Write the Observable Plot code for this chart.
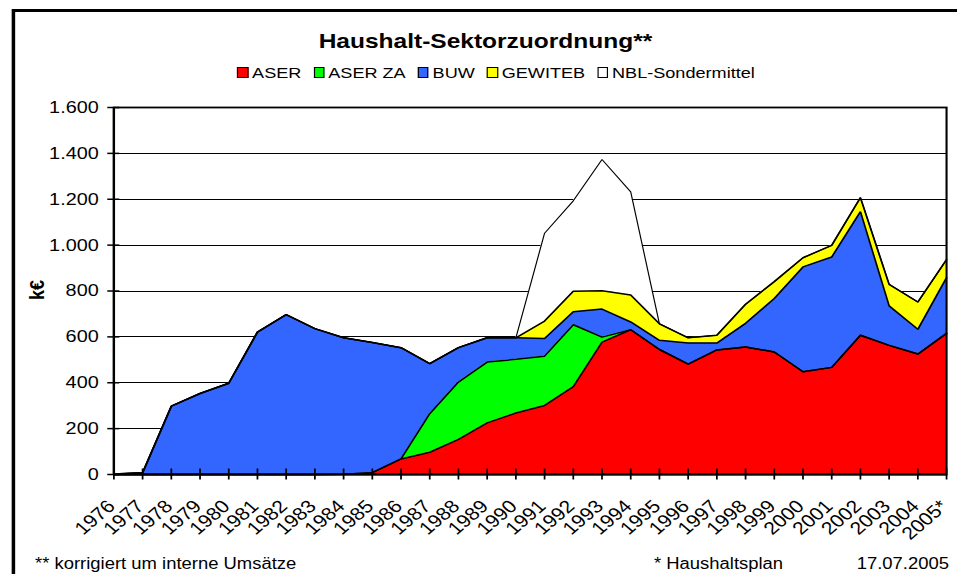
<!DOCTYPE html>
<html>
<head>
<meta charset="utf-8">
<script src="https://cdn.jsdelivr.net/npm/d3@7"></script>
<script src="https://cdn.jsdelivr.net/npm/@observablehq/plot@0.6"></script>
<style>
html, body { margin: 0; padding: 0; overflow: hidden; background: #fff; width: 957px; height: 574px; }
#stage { position: absolute; left: 0; top: 0; width: 820px; height: 574px; transform: scaleX(1.167); transform-origin: 0 0;
  font-family: 'Liberation Sans', Arial, sans-serif; color: #000; }
#frame { position: absolute; left: 10.3px; top: 9px; width: 900px; height: 700px; border: 3px solid #000; box-sizing: border-box; }
#chart { position: absolute; left: 0; top: 0; }
#title { position: absolute; left: 12px; width: 808px; top: 30.2px; text-align: center; font-weight: bold; font-size: 21px; line-height: 21px; white-space: nowrap; }
#legend { position: absolute; left: 30px; width: 790px; top: 64.9px; display: flex; justify-content: center; font-size: 15.5px; line-height: 15.5px; white-space: nowrap; }
#legend .item { margin: 0 5.15px; }
#legend .sw { display: inline-block; width: 9.4px; height: 11px; box-sizing: border-box; border: 1px solid #000; margin-right: 3.4px; vertical-align: baseline; }
#ylabel { position: absolute; left: 31.7px; top: 290px; transform: translate(-50%, -50%) rotate(-90deg); font-weight: bold; font-size: 18px; line-height: 18px; white-space: nowrap; }
.foot { position: absolute; top: 555.6px; font-size: 15.8px; line-height: 15.8px; white-space: nowrap; }
</style>
</head>
<body>
<div id="stage">
  <div id="frame"></div>
  <div id="chart"></div>
  <div id="title">Haushalt-Sektorzuordnung**</div>
  <div id="legend"></div>
  <div id="ylabel">k€</div>
  <div class="foot" style="left:30px">** korrigiert um interne Umsätze</div>
  <div class="foot" style="left:560.4px">* Haushaltsplan</div>
  <div class="foot" style="right:6.8px">17.07.2005</div>
</div>
<script>
// ---- data ----
const years = [1976,1977,1978,1979,1980,1981,1982,1983,1984,1985,1986,1987,1988,1989,1990,
               1991,1992,1993,1994,1995,1996,1997,1998,1999,2000,2001,2002,2003,2004,2005];
const xLabels = ["1976","1977","1978","1979","1980","1981","1982","1983","1984","1985","1986","1987","1988","1989","1990",
                 "1991","1992","1993","1994","1995","1996","1997","1998","1999","2000","2001","2002","2003","2004","2005*"];
const seriesNames = ["ASER", "ASER ZA", "BUW", "GEWITEB", "NBL-Sondermittel"];
const seriesColors = ["#FF0000", "#00FF00", "#3366FF", "#FFFF00", "#FFFFFF"];
const aser     = [0,0,0,0,0,0,0,0,1,8,68,97,153,225,268,301,383,577,631,545,481,543,556,534,448,467,607,563,525,615];
const aserZA   = [0,0,0,0,0,0,0,0,0,0,0,168,250,265,234,215,270,22,0,0,0,0,0,0,0,0,0,0,0,0];
const buw      = [2,8,298,353,398,621,697,636,595,567,485,218,150,106,94,77,57,122,34,40,92,30,103,233,457,481,539,172,108,243];
const gewiteb  = [0,0,0,0,0,0,0,0,0,0,0,0,0,0,0,76,89,80,118,72,23,34,83,74,40,51,61,94,119,79];
const nbl      = [0,0,0,0,0,0,0,0,0,0,0,0,0,0,0,383,394,572,449,0,0,0,0,0,0,0,0,0,0,0];
const yTicks = [0,200,400,600,800,1000,1200,1400,1600];

// ---- build long table ----
const seriesValues = [aser, aserZA, buw, gewiteb, nbl];
const long = [];
seriesNames.forEach((name, s) => {
  years.forEach((yr, i) => long.push({year: yr, value: seriesValues[s][i], series: name}));
});

const fmt = d => d >= 1000 ? `${Math.floor(d / 1000)}.${String(d % 1000).padStart(3, "0")}` : String(d);

const tickHalfY = 24;     // data units (~5.5px)
const tickHalfX = 0.21;   // years (~5px)

const chart = Plot.plot({
  width: 820,
  height: 574,
  marginLeft: 97.1,
  marginRight: 9.4,
  marginTop: 107,
  marginBottom: 100,
  x: {domain: [1976, 2005], label: null, axis: null},
  y: {domain: [0, 1600], label: null},
  color: {domain: seriesNames, range: seriesColors},
  style: {fontFamily: "'Liberation Sans', Arial, sans-serif", fontSize: "17px", background: "transparent", overflow: "visible", color: "#000"},
  marks: [
    Plot.ruleY(yTicks.filter(d => d > 0 && d < 1600), {stroke: "#000", strokeWidth: 1, shapeRendering: "crispEdges"}),
    Plot.areaY(long, {x: "year", y: "value", z: "series", fill: "series", order: seriesNames}),
    Plot.lineY(long, Plot.stackY2({x: "year", y: "value", z: "series", order: seriesNames, stroke: "#000",
      strokeWidth: d => d.series === "NBL-Sondermittel" ? 1 : 1.5, strokeLinejoin: "miter"})),
    Plot.frame({stroke: "#000", strokeWidth: 1.8}),
    Plot.ruleY([0], {stroke: "#000", strokeWidth: 2}),
    Plot.ruleX([1976], {stroke: "#000", strokeWidth: 2}),
    Plot.ruleX(years, {x: d => d, y1: -tickHalfY, y2: tickHalfY, stroke: "#000", strokeWidth: 1.5}),
    Plot.ruleY(yTicks, {y: d => d, x1: 1976 - tickHalfX, x2: 1976 + tickHalfX, stroke: "#000", strokeWidth: 1.5}),
    Plot.axisY({ticks: yTicks, tickSize: 0, tickPadding: 13, tickFormat: fmt, label: null}),
    Plot.text(years, {x: d => d, y: 0, text: (d, i) => xLabels[i], rotate: -45, textAnchor: "end", lineAnchor: "top",
      dx: -7, dy: 24, fontSize: 18, fill: "#000"})
  ]
});
document.getElementById("chart").appendChild(chart);

// ---- legend ----
const legend = document.getElementById("legend");
seriesNames.forEach((name, i) => {
  const item = document.createElement("span");
  item.className = "item";
  const sw = document.createElement("span");
  sw.className = "sw";
  sw.style.background = seriesColors[i];
  item.appendChild(sw);
  item.appendChild(document.createTextNode(name));
  legend.appendChild(item);
});
</script>
</body>
</html>
